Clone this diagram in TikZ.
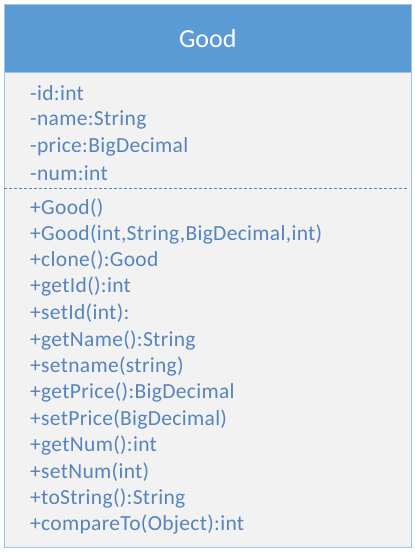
\documentclass[tikz,border=0pt]{standalone}
\usepackage{fontspec}
\setmainfont{Carlito}
\newfontfamily\memberfont[LetterSpace=1.5]{Carlito}
\definecolor{hdr}{HTML}{5B9BD5}
\definecolor{bodybg}{HTML}{F2F2F2}
\definecolor{txt}{HTML}{5584BF}
\begin{document}
\begin{tikzpicture}[x=1pt,y=-1pt,
  member/.style={anchor=west,text=txt,font=\memberfont\fontsize{21.5}{21.5}\selectfont,inner sep=0pt},
]
\useasboundingbox (0,0) rectangle (415,552);
\fill[white] (0,0) rectangle (415,552);
\node[draw=hdr!60!white,fill=bodybg,line width=0.6pt,minimum width=407,minimum height=475,anchor=north west,inner sep=0pt] (body) at (4,72) {};
\node[draw=hdr!60!white,fill=hdr,line width=0.6pt,minimum width=407,minimum height=68,anchor=north west,inner sep=0pt] (head) at (4,4) {};
\node[text=white,font=\fontsize{26}{26}\selectfont] (title) at (head.center) {Good};
\coordinate (dl) at (4,188);
\coordinate (dr) at (409,188);
\draw[txt,line width=0.9pt,dash pattern=on 3pt off 2pt] (dl) -- (dr);
\node[member] (a1) at (30,93) {-id:int};
\node[member] (a2) at (30,120) {-name:String};
\node[member] (a3) at (30,147) {-price:BigDecimal};
\node[member] (a4) at (30,173) {-num:int};
\node[member] (m1) at (30,208) {+Good()};
\node[member] (m2) at (30,234) {+Good(int,String,BigDecimal,int)};
\node[member] (m3) at (30,260) {+clone():Good};
\node[member] (m4) at (30,286) {+getId():int};
\node[member] (m5) at (30,313) {+setId(int):};
\node[member] (m6) at (30,340) {+getName():String};
\node[member] (m7) at (30,366) {+setname(string)};
\node[member] (m8) at (30,392) {+getPrice():BigDecimal};
\node[member] (m9) at (30,419) {+setPrice(BigDecimal)};
\node[member] (m10) at (30,445) {+getNum():int};
\node[member] (m11) at (30,472) {+setNum(int)};
\node[member] (m12) at (30,498) {+toString():String};
\node[member] (m13) at (30,524) {+compareTo(Object):int};
\end{tikzpicture}
\end{document}
